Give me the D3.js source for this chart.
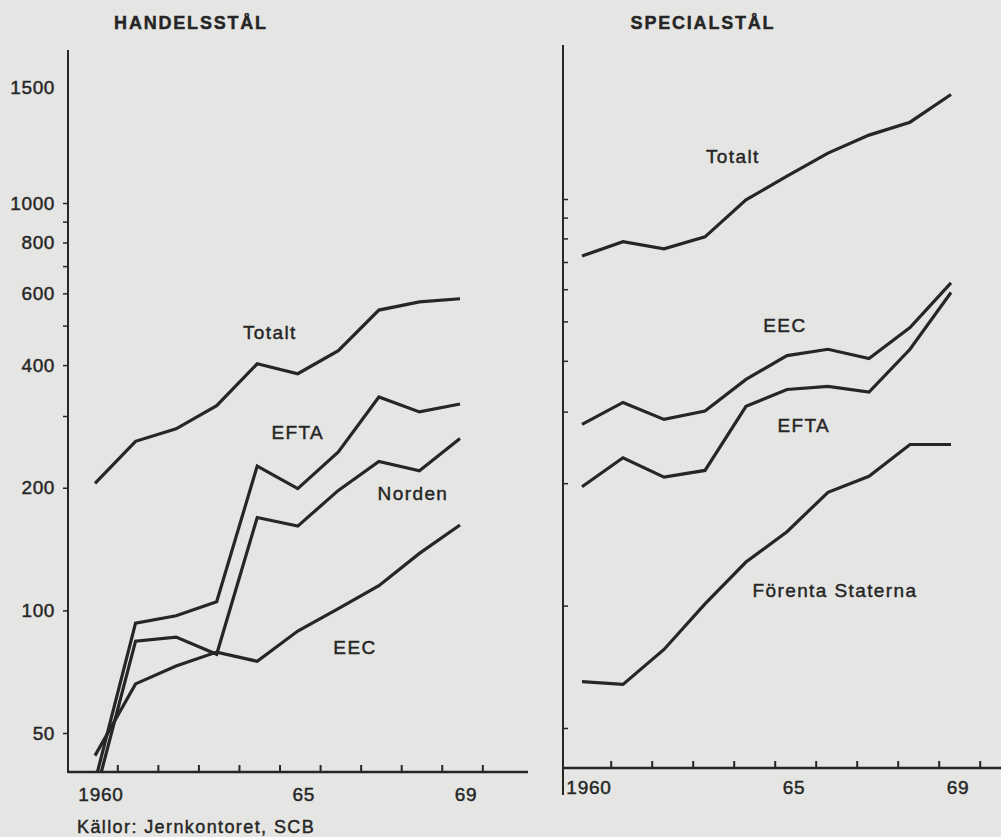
<!DOCTYPE html>
<html>
<head>
<meta charset="utf-8">
<script src="https://cdn.jsdelivr.net/npm/d3@7"></script>
<style>
    body { margin: 0; background: #e5e6e3; }
    svg { display: block; font-family: "Liberation Sans", Arial, sans-serif; }
    text { stroke: #262626; stroke-width: 0.45px; }
</style>
</head>
<body>
<div id="main"></div>
<script>
// values (thousand tons, log scale)
var years = [1960, 1961, 1962, 1963, 1964, 1965, 1966, 1967, 1968, 1969];

// HANDELSSTÅL
var handelTotalt = [205, 260, 279, 318, 403, 381, 434, 546, 572, 582];
var handelEFTA = [38, 93, 97, 105, 226, 199, 245, 334, 307, 321];
var handelNorden = [35, 84, 86, 78, 169, 161, 197, 232, 220, 264];
var handelEEC = [44, 66, 73, 79, 75, 89, 101, 115, 138, 162];

// SPECIALSTÅL
var specTotalt = [724, 785, 754, 807, 995, 1138, 1297, 1436, 1545, 1807];
var specEEC = [279, 316, 287, 301, 360, 412, 427, 405, 483, 622];
var specEFTA = [196, 231, 207, 215, 309, 340, 346, 335, 427, 589];
var specUSA = [65, 64, 78, 101, 128, 152, 190, 208, 249, 249];

// axis ticks
var minorTicks = [50, 100, 200, 300, 400, 500, 600, 700, 800, 900, 1000];
var leftLabelValues = [50, 100, 200, 400, 600, 800, 1000, 1920]; // "1500" is printed where ~1920 falls
var leftLabelTexts = ["50", "100", "200", "400", "600", "800", "1000", "1500"];
var xLabelYears = [1960, 1965, 1969];
var xLabelTexts = ["1960", "65", "69"];

// series labels: [text, year, value]
var handelLabels = [
    ["Totalt", 1964.31, 463],
    ["EFTA", 1965.0, 263],
    ["Norden", 1967.84, 187],
    ["EEC", 1966.41, 78],
];
var specLabels = [
    ["Totalt", 1963.68, 1226],
    ["EEC", 1964.95, 471],
    ["EFTA", 1965.41, 267],
    ["Förenta Staterna", 1966.17, 105],
];

var ctx = {
    w: 1001,
    h: 837,
    ink: "#262626",
    LINE_W: 3.2,
};

var svg = d3.select("#main").append("svg")
    .attr("width", ctx.w)
    .attr("height", ctx.h);

var line = function (x, y) {
    return d3.line()
        .x((d) => x(d[0]))
        .y((d) => y(d[1]));
};

var drawPanel = function (p) {
    var g = svg.append("g");
    var x = d3.scaleLinear().domain([1960, 1969]).range(p.xRange);
    var y = d3.scaleLog().domain([50, 1000]).range(p.yRange);

    // clip so lines stop at the x axis
    svg.append("clipPath").attr("id", p.id + "-clip")
        .append("rect")
        .attr("x", p.axisX).attr("y", 0)
        .attr("width", p.axisEnd - p.axisX).attr("height", p.axisY);

    // axis lines
    g.append("line")
        .attr("x1", p.axisX).attr("x2", p.axisX)
        .attr("y1", p.axisTop).attr("y2", p.axisBottom)
        .attr("stroke", ctx.ink).attr("stroke-width", 2);
    g.append("line")
        .attr("x1", p.axisX).attr("x2", p.axisEnd)
        .attr("y1", p.axisY).attr("y2", p.axisY)
        .attr("stroke", ctx.ink).attr("stroke-width", 2.5);

    // x ticks between years, pointing up
    var xt = g.append("g")
        .attr("transform", `translate(0,${p.axisY})`)
        .call(d3.axisBottom(x)
            .tickValues(years.map((d) => d + p.tickShift))
            .tickSizeInner(-7).tickSizeOuter(0)
            .tickFormat(""));
    xt.select(".domain").remove();
    xt.selectAll("line").attr("stroke", ctx.ink).attr("stroke-width", 2);

    // x labels
    g.selectAll(".xlab").data(xLabelYears).enter().append("text")
        .attr("x", (d) => x(d) + p.xLabelDx)
        .attr("y", p.xLabelY)
        .attr("text-anchor", "middle")
        .attr("font-size", 19)
        .attr("letter-spacing", 0.8)
        .attr("fill", ctx.ink)
        .text((d, i) => xLabelTexts[i]);

    // y ticks
    var yt = g.append("g")
        .attr("transform", `translate(${p.axisX},0)`)
        .call((p.ticksRight ? d3.axisRight(y) : d3.axisLeft(y))
            .tickValues(minorTicks)
            .tickSizeInner(5).tickSizeOuter(0)
            .tickFormat(""));
    yt.select(".domain").remove();
    yt.selectAll("line").attr("stroke", ctx.ink).attr("stroke-width", 1.5);

    if (p.yLabels) {
        var yl = g.append("g")
            .attr("transform", `translate(${p.axisX},0)`)
            .call(d3.axisLeft(y)
                .tickValues(leftLabelValues)
                .tickSize(0).tickPadding(13)
                .tickFormat((d, i) => leftLabelTexts[i]));
        yl.select(".domain").remove();
        yl.selectAll("text")
            .attr("font-size", 19)
            .attr("letter-spacing", 0.6)
            .attr("font-family", "Liberation Sans, Arial, sans-serif")
            .attr("fill", ctx.ink);
    }

    // series
    var lines = g.append("g").attr("clip-path", `url(#${p.id}-clip)`);
    p.series.forEach(function (s) {
        lines.append("path")
            .datum(years.map((yr, i) => [yr, s[i]]))
            .attr("d", line(x, y))
            .attr("fill", "none")
            .attr("stroke", ctx.ink)
            .attr("stroke-width", ctx.LINE_W)
            .attr("stroke-linejoin", "miter");
    });

    // series names
    g.selectAll(".slab").data(p.labels).enter().append("text")
        .attr("x", (d) => x(d[1]))
        .attr("y", (d) => y(d[2]))
        .attr("text-anchor", "middle")
        .attr("font-size", 19)
        .attr("letter-spacing", 1.4)
        .attr("fill", ctx.ink)
        .text((d) => d[0]);

    // title
    g.append("text")
        .attr("x", p.titleX).attr("y", 29)
        .attr("text-anchor", "middle")
        .attr("font-size", 18)
        .attr("font-weight", "bold")
        .attr("letter-spacing", 1.8)
        .attr("fill", ctx.ink)
        .text(p.title);
};

drawPanel({
    id: "handel",
    title: "HANDELSSTÅL",
    titleX: 191,
    xRange: [95, 460],
    yRange: [733, 203],
    axisX: 68, axisTop: 50, axisBottom: 773, axisY: 772, axisEnd: 528,
    tickShift: 0.55,
    xLabelDx: 6, xLabelY: 801,
    yLabels: true,
    ticksRight: false,
    series: [handelTotalt, handelEFTA, handelNorden, handelEEC],
    labels: handelLabels,
});

drawPanel({
    id: "spec",
    title: "SPECIALSTÅL",
    titleX: 703,
    xRange: [582, 951],
    yRange: [728, 199],
    axisX: 563, axisTop: 45, axisBottom: 795, axisY: 768, axisEnd: 1001,
    tickShift: 0.7,
    xLabelDx: 7, xLabelY: 794,
    yLabels: false,
    ticksRight: true,
    series: [specTotalt, specEEC, specEFTA, specUSA],
    labels: specLabels,
});

svg.append("text")
    .attr("x", 77).attr("y", 833)
    .attr("font-size", 18)
    .attr("letter-spacing", 1.4)
    .attr("fill", ctx.ink)
    .text("Källor: Jernkontoret, SCB");
</script>
</body>
</html>
